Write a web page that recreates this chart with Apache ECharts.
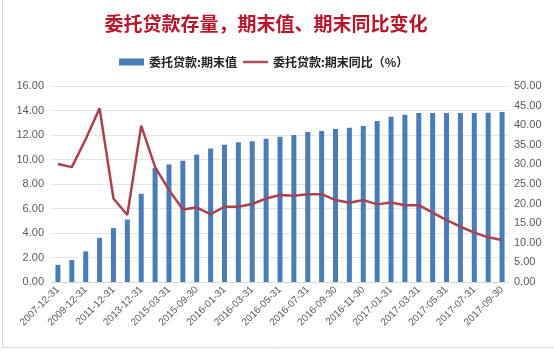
<!DOCTYPE html>
<html>
<head>
<meta charset="utf-8">
<script src="https://cdn.jsdelivr.net/npm/echarts@6/dist/echarts.min.js"></script>
<style>
html, body { margin: 0; padding: 0; background: #fff; }
#main { width: 554px; height: 352px; }
</style>
</head>
<body>
<div id="main"></div>
<script>
// 日期
var dates = [
    '2007-12-31', '2008-12-31', '2009-12-31', '2010-12-31', '2011-12-31', '2012-12-31',
    '2013-12-31', '2014-12-31', '2015-03-31', '2015-06-30', '2015-09-30', '2015-12-31',
    '2016-01-31', '2016-02-29', '2016-03-31', '2016-04-30', '2016-05-31', '2016-06-30',
    '2016-07-31', '2016-08-31', '2016-09-30', '2016-10-31', '2016-11-30', '2016-12-31',
    '2017-01-31', '2017-02-28', '2017-03-31', '2017-04-30', '2017-05-31', '2017-06-30',
    '2017-07-31', '2017-08-31', '2017-09-30'
];
// 期末值 (万亿)
var endValue = [
    1.4, 1.8, 2.5, 3.6, 4.4, 5.1,
    7.2, 9.3, 9.6, 9.9, 10.4, 10.9,
    11.2, 11.4, 11.5, 11.7, 11.85, 12.0,
    12.24, 12.33, 12.49, 12.6, 12.73, 13.14,
    13.5, 13.66, 13.8, 13.8, 13.8, 13.8,
    13.8, 13.82, 13.88
];
// 期末同比 (%)
var yoy = [
    30.1, 29.3, 36.4, 44.3, 21.3, 17.1,
    39.9, 29.3, 23.5, 18.5, 19.0, 17.3,
    19.2, 19.2, 19.9, 21.3, 22.2, 22.0,
    22.4, 22.4, 20.9, 20.2, 20.9, 19.8,
    20.3, 19.6, 19.6, 17.7, 15.8, 14.1,
    12.6, 11.4, 10.7
];
var leftTicks = { min: 0, max: 16, interval: 2 };
var rightTicks = { min: 0, max: 50, interval: 5 };

var myChart = echarts.init(document.getElementById('main'));
var option = {
    animation: false,
    graphic: [{
        type: 'rect',
        shape: { x: 2.5, y: -2, width: 560, height: 349.5 },
        style: { fill: 'none', stroke: '#d9d9d9', lineWidth: 1 }
    }],
    title: {
        text: '委托贷款存量，期末值、期末同比变化',
        left: 261,
        textAlign: 'center',
        top: 9,
        textStyle: { color: '#b8162b', fontSize: 19, fontWeight: 'bold', fontFamily: 'Noto Sans CJK SC' }
    },
    legend: {
        top: 51,
        left: 114,
        itemGap: 6,
        itemWidth: 25,
        itemHeight: 7,
        textStyle: { color: '#222', fontSize: 12, fontWeight: 'bold', fontFamily: 'Noto Sans CJK SC' },
        data: [
            { name: '委托贷款:期末值', icon: 'rect' },
            { name: '委托贷款:期末同比（%）', icon: 'path://M0,0 L25,0 L25,2.5 L0,2.5 Z', itemStyle: { color: '#a8505a' } }
        ]
    },
    grid: { left: 51, right: 45, top: 86, bottom: 70 },
    xAxis: {
        type: 'category',
        data: dates,
        axisLine: { lineStyle: { color: '#d9d9d9' } },
        axisTick: { show: false },
        axisLabel: {
            interval: 1,
            rotate: 45,
            color: '#595959',
            fontSize: 10,
            fontFamily: 'Liberation Sans',
            margin: 6
        }
    },
    yAxis: [{
        type: 'value',
        min: leftTicks.min, max: leftTicks.max, interval: leftTicks.interval,
        axisLine: { show: false },
        axisTick: { show: false },
        axisLabel: {
            formatter: function (v) { return v.toFixed(2); },
            color: '#595959', fontSize: 11, fontFamily: 'Liberation Sans', margin: 7
        },
        splitLine: { lineStyle: { color: '#e4e4e4' } }
    }, {
        type: 'value',
        min: rightTicks.min, max: rightTicks.max, interval: rightTicks.interval,
        axisLine: { show: false },
        axisTick: { show: false },
        axisLabel: {
            formatter: function (v) { return v.toFixed(2); },
            color: '#595959', fontSize: 11, fontFamily: 'Liberation Sans', margin: 5
        },
        splitLine: { show: false }
    }],
    series: [{
        name: '委托贷款:期末值',
        type: 'bar',
        yAxisIndex: 0,
        barWidth: 5,
        itemStyle: { color: '#4a7cb9' },
        data: endValue
    }, {
        name: '委托贷款:期末同比（%）',
        type: 'line',
        yAxisIndex: 1,
        showSymbol: false,
        symbol: 'none',
        lineStyle: { color: '#a8424f', width: 2.5 },
        itemStyle: { color: '#a8424f' },
        data: yoy
    }]
};
myChart.setOption(option);
</script>
</body>
</html>
